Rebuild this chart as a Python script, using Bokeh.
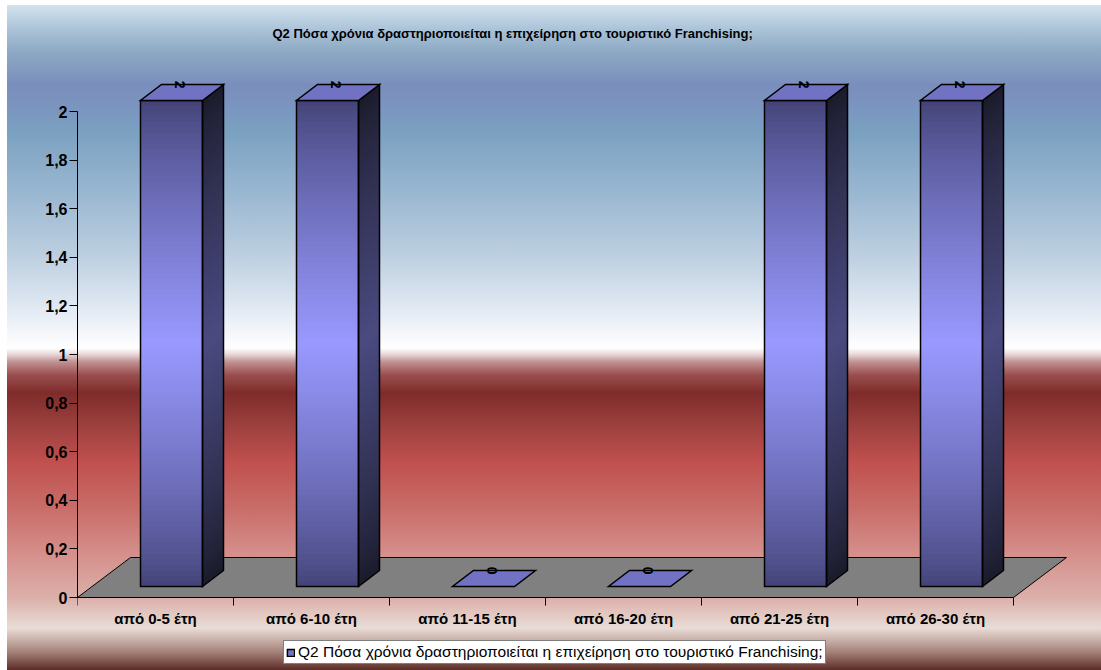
import numpy as np
from bokeh.plotting import figure
from bokeh.models import FixedTicker, Legend, LegendItem, Range1d
from bokeh.core.properties import value
from bokeh.embed import file_html
from bokeh.resources import INLINE

# ---------------- data ----------------
title_text = "Q2 Πόσα χρόνια δραστηριοποιείται η επιχείρηση στο τουριστικό Franchising;"
series_name = "Q2 Πόσα χρόνια δραστηριοποιείται η επιχείρηση στο τουριστικό Franchising;"
categories = ["από 0-5 έτη", "από 6-10 έτη", "από 11-15 έτη",
              "από 16-20 έτη", "από 21-25 έτη", "από 26-30 έτη"]
values = [2, 2, 0, 0, 2, 2]
y_ticks = [0, 0.2, 0.4, 0.6, 0.8, 1, 1.2, 1.4, 1.6, 1.8, 2]
y_tick_labels = ["0", "0,2", "0,4", "0,6", "0,8", "1", "1,2", "1,4", "1,6", "1,8", "2"]

# ---------------- layout / style ----------------
W, H = 1101, 670
FL, FR, FT, FB = 77, 1070, 55, 597      # frame left/right/top, baseline (px)
PX_X, PX_Y = 156.0, 243.0               # px per data unit
FONT = "Liberation Sans"

FLOOR_DX, FLOOR_DY = 53 / PX_X, 40 / PX_Y
BAR_OFF, BAR_W = 63 / PX_X, 62 / PX_X
BAR_BASE = 11 / PX_Y
DDX, DDY = 21 / PX_X, 16 / PX_Y
LBL_DX, LBL_DY = 102 / PX_X, 0.111

n = len(categories)
p = figure(width=W, height=H, output_backend="svg", toolbar_location=None,
           x_range=Range1d(0, (FR - FL) / PX_X),
           y_range=Range1d(-(H - FB) / PX_Y, (FB - FT) / PX_Y),
           min_border_left=FL, min_border_right=W - FR, min_border_top=FT,
           min_border_bottom=0, border_fill_color=None,
           background_fill_color=None, outline_line_color=None)

bg = ("linear-gradient(to right, #ffffff 0px, #ffffff 7px, rgba(255,255,255,0) 7px), "
      "linear-gradient(to bottom, #ffffff 0px, #ffffff 5px, #d3e3ee 5px, #aac2d8 30px, "
      "#8eaac4 51px, #7a8ebc 85px, #7b92bf 100px, #7aa0c0 130px, #98b6d0 190px, "
      "#bccfe0 255px, #dbe5f0 300px, #f2f5fa 330px, #ffffff 348px, #eadada 354px, "
      "#c09090 362px, #9a4e4e 375px, #7e2c2a 393px, #9c403e 425px, #c0504e 462px, "
      "#c96e6a 510px, #d6908c 555px, #dcb0aa 598px, #e9dcd6 628px, #c8b0a8 640px, "
      "#a4827a 652px, #5c2c26 670px)")
p.styles = {"background": bg}

p.xgrid.visible = False
p.ygrid.visible = False

# ---- floor ----
p.patch([0, n, n + FLOOR_DX, FLOOR_DX], [0, 0, FLOOR_DY, FLOOR_DY],
        fill_color="#808080", line_color="black", line_width=1)

# ---- bars ----
N = 90
def mix(c1, c2, t):
    return "#%02x%02x%02x" % tuple(int(round(a + (b - a) * t)) for a, b in zip(c1, c2))

front_dark, front_light = (66, 66, 118), (153, 153, 255)
side_dark, side_light = (26, 26, 42), (74, 74, 128)

fl, fr, fb, ft, fc = [], [], [], [], []
sxs, sys_, sc = [], [], []
txs, tys = [], []
oxs, oys = [], []
for i, v in enumerate(values):
    x0 = i + BAR_OFF
    x1 = x0 + BAR_W
    top = BAR_BASE + v
    if v > 0:
        h = v / N
        for k in range(N):
            t = (k + 0.5) / N
            w = 1 - abs(2 * t - 1)
            w = w ** 0.8
            yb = BAR_BASE + k * h
            yt = yb + h * (1.6 if k < N - 1 else 1.0)
            fl.append(x0); fr.append(x1); fb.append(yb); ft.append(yt)
            fc.append(mix(front_dark, front_light, w))
            sxs.append([x1, x1 + DDX, x1 + DDX, x1])
            sys_.append([yb, yb + DDY, yt + DDY, yt])
            sc.append(mix(side_dark, side_light, w))
        oxs.append([x0, x1, x1, x0]); oys.append([BAR_BASE, BAR_BASE, top, top])
        oxs.append([x1, x1 + DDX, x1 + DDX, x1]); oys.append([BAR_BASE, BAR_BASE + DDY, top + DDY, top])
    txs.append([x0, x1, x1 + DDX, x0 + DDX])
    tys.append([top, top, top + DDY, top + DDY])

p.quad(left=fl, right=fr, bottom=fb, top=ft, fill_color=fc, line_color=None)
p.patches(sxs, sys_, fill_color=sc, line_color=None)
p.patches(oxs, oys, fill_color=None, line_color="black", line_width=1.5, line_join="miter")
top_r = p.patches(txs, tys, fill_color="#7272c4", line_color="black", line_width=1.5,
                  line_join="miter")

# ---- value labels ----
p.text(x=[i + LBL_DX for i in range(n)], y=[v + LBL_DY for v in values],
       text=[str(v) for v in values], angle=-np.pi / 2, text_align="center",
       text_baseline="middle", text_font=value(FONT), text_font_size="14px",
       text_font_style="bold", text_color="black")

# ---- axes ----
xa = p.xaxis[0]
xa.fixed_location = 0
xa.ticker = FixedTicker(ticks=[i + 0.5 for i in range(n)], minor_ticks=list(range(n + 1)))
xa.major_label_overrides = {i + 0.5: c for i, c in enumerate(categories)}
xa.bounds = (0, n)
xa.major_tick_out = 0
xa.major_tick_in = 0
xa.minor_tick_out = 8
xa.minor_tick_in = 0
xa.minor_tick_line_color = "black"
xa.axis_line_color = "black"
xa.major_label_standoff = 4
xa.major_label_text_font = FONT
xa.major_label_text_font_size = "15px"
xa.major_label_text_font_style = "bold"
xa.major_label_text_color = "black"

ya = p.yaxis[0]
ya.ticker = FixedTicker(ticks=y_ticks, minor_ticks=[])
ya.major_label_overrides = {t: l for t, l in zip(y_ticks, y_tick_labels)}
ya.bounds = (0, 2)
ya.major_tick_out = 8
ya.major_tick_in = 0
ya.minor_tick_out = 0
ya.minor_tick_in = 0
ya.axis_line_color = "black"
ya.major_tick_line_color = "black"
ya.major_label_standoff = 2
ya.major_label_text_font = FONT
ya.major_label_text_font_size = "16px"
ya.major_label_text_font_style = "bold"
ya.major_label_text_color = "black"

# ---- title ----
p.title.text = title_text
p.title.align = "left"
p.title.offset = 195
p.title.text_font = FONT
p.title.text_font_size = "13px"
p.title.text_font_style = "bold"
p.title.text_color = "black"
p.title.standoff = 30

# ---- legend ----
legend = Legend(items=[LegendItem(label=series_name, renderers=[top_r])],
                location=(206, 6), orientation="horizontal",
                border_line_color="black", border_line_width=1,
                background_fill_color="white", background_fill_alpha=1,
                label_text_font=FONT, label_text_font_size="15.5px",
                label_text_color="black", glyph_width=9, glyph_height=9,
                label_standoff=3, padding=2, margin=0, spacing=0,
                label_height=15)
p.add_layout(legend)

open("out.html", "w").write(file_html(p, INLINE))
